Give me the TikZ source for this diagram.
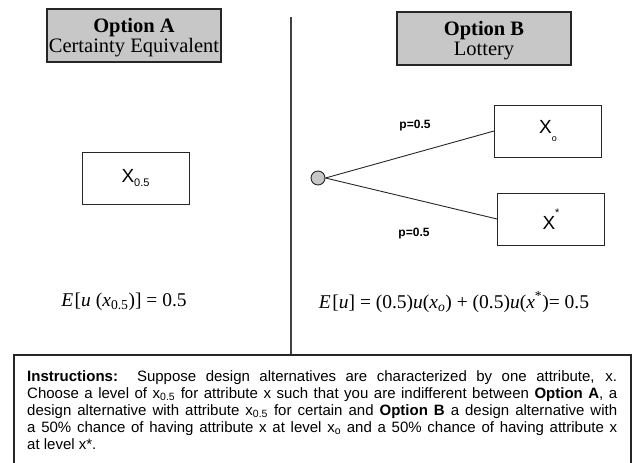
\documentclass[tikz,border=0pt]{standalone}
\usepackage{fontspec}
\setmainfont{Liberation Serif}
\setsansfont{Liberation Sans}
\tikzset{
  optbox/.style={draw=black!85, line width=1.3pt, fill=black!22, minimum width=174pt, minimum height=53pt, inner sep=0pt},
  opttext/.style={anchor=base, inner sep=0pt, font=\fontsize{20.5}{20}\selectfont},
  valbox/.style={draw=black!85, line width=0.9pt, fill=white, minimum width=107pt, minimum height=52pt, inner sep=0pt, font=\sffamily\fontsize{19}{20}\selectfont},
  plabel/.style={font=\sffamily\bfseries\fontsize{12}{12}\selectfont, inner sep=0pt},
  eqn/.style={font=\fontsize{19.5}{20}\selectfont, inner sep=0pt},
  branch/.style={draw=black!85, line width=0.9pt},
}
\begin{document}
\begin{tikzpicture}[x=1pt, y=-1pt]
\useasboundingbox (0,0) rectangle (635,463);

% headers of the two options
\node[optbox] (optA) at (134,35.5) {};
\node[opttext] (optAhead) at (134,32) {\textbf{Option A}};
\node[opttext] (optAsub) at (134,52) {Certainty Equivalent};
\node[optbox] (optB) at (484,38.5) {};
\node[opttext] (optBhead) at (484,35) {\textbf{Option B}};
\node[opttext] (optBsub) at (484,55) {Lottery};

% divider between the options
\coordinate (divtop) at (291,17);
\coordinate (divbot) at (291,355);
\draw[black!75, line width=1.4pt] (divtop) -- (divbot);

% certain outcome
\node[valbox] (xhalf) at (135.5,178) {X\raisebox{-0.45ex}{\fontsize{11}{12}\selectfont 0.5}};

% lottery
\node[circle, draw=black!85, fill=black!22, line width=0.9pt, minimum size=14pt, inner sep=0pt] (chance) at (318,178) {};
\node[valbox] (xo) at (548,131) {X\raisebox{-0.7ex}{\fontsize{9}{10}\selectfont o}};
\node[valbox] (xs) at (551,219) {X\raisebox{1.3ex}{\fontsize{11}{12}\selectfont *}};
\draw[branch] (chance.east) -- (xo.west);
\draw[branch] (chance.east) -- (xs.west);
\node[plabel] (pa) at (415,126) {p=0.5};
\node[plabel] (pb) at (414,234) {p=0.5};

% expected utilities
\node[eqn] (eqA) at (124,302) {\textit{E}\kern1.5pt[\textit{u} (\textit{x}\textsubscript{0.5})] = 0.5};
\node[eqn] (eqB) at (454,302) {\textit{E}\kern1.5pt[\textit{u}] = (0.5)\textit{u}(\textit{x}\textsubscript{\textit{o}}) + (0.5)\textit{u}(\textit{x}\textsuperscript{*})= 0.5};

% instructions panel
\coordinate (bl) at (14,463);
\coordinate (tr) at (631,355);
\draw[black!85, line width=1.2pt] (bl) |- (tr) -- (tr |- bl);
\node[text width=590pt, align=justify, inner sep=0pt, anchor=north west,
      font=\sffamily\fontsize{15}{17}\selectfont] (instr) at (27,370)
  {\textbf{Instructions:}\ \ Suppose design alternatives are characterized by one attribute, x.\linebreak
   Choose a level of x\textsubscript{0.5} for attribute x such that you are indifferent between \textbf{Option A}, a\linebreak
   design alternative with attribute x\textsubscript{0.5} for certain and \textbf{Option B} a design alternative with\linebreak
   a 50\% chance of having attribute x at level x\textsubscript{o} and a 50\% chance of having attribute x\linebreak
   at level x*.};
\end{tikzpicture}
\end{document}
